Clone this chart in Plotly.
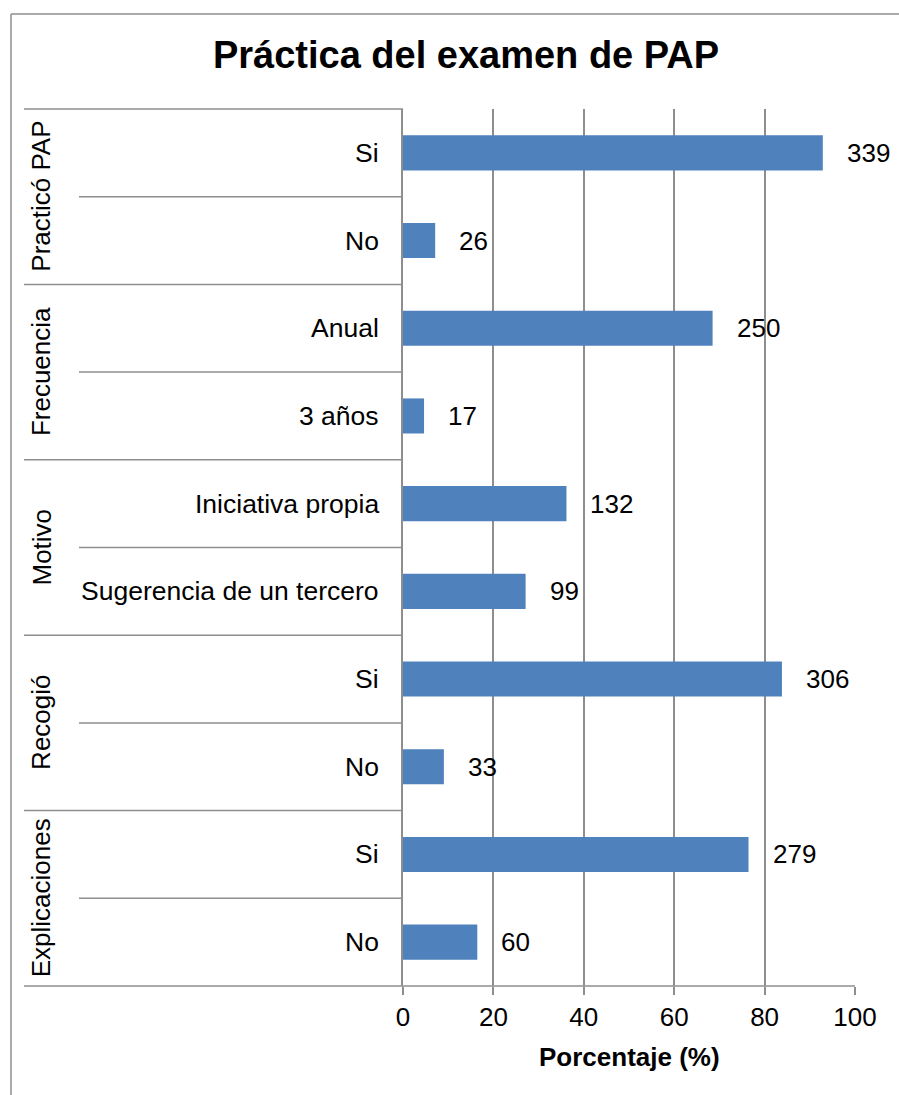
import plotly.graph_objects as go

# Survey results: Pap smear practice (n = 365)
groups = ["Practicó PAP", "Frecuencia", "Motivo", "Recogió", "Explicaciones"]
categories = ["Si", "No", "Anual", "3 años", "Iniciativa propia",
              "Sugerencia de un tercero", "Si", "No", "Si", "No"]
counts = [339, 26, 250, 17, 132, 99, 306, 33, 279, 60]
total = 365
percent = [c / total * 100 for c in counts]
x_ticks = [0, 20, 40, 60, 80, 100]

W, H = 899, 1095
ML, MR, MT, MB = 403, 44, 109, 109
PW, PH = W - ML - MR, H - MT - MB

FONT = "Liberation Sans, Arial, sans-serif"
GRID = "#8e8e8e"
BAR = "#4F81BD"

rows = list(range(len(categories)))


def px_x(p):
    return (p - ML) / PW


def px_y(p):
    return 1 - (p - MT) / PH


fig = go.Figure()
fig.add_trace(go.Bar(
    x=percent, y=rows, orientation="h", width=0.4,
    marker=dict(color=BAR, line=dict(width=0)),
    hoverinfo="skip",
))

annotations = []
# value labels to the right of each bar
for r, p, c in zip(rows, percent, counts):
    annotations.append(dict(x=p, y=r, xref="x", yref="y", text=str(c),
                            showarrow=False, xanchor="left", xshift=22,
                            font=dict(family=FONT, size=26, color="black")))
# category labels
for r, cat in zip(rows, categories):
    annotations.append(dict(x=0, y=r, xref="paper", yref="y", text=cat,
                            showarrow=False, xanchor="right", xshift=-22,
                            font=dict(family=FONT, size=26.5, color="black")))
# rotated group labels
n_per = len(categories) // len(groups)
for g, name in enumerate(groups):
    annotations.append(dict(x=px_x(41), y=g * n_per + (n_per - 1) / 2,
                            xref="paper", yref="y", text=name, textangle=-90,
                            showarrow=False, xanchor="center", yanchor="middle",
                            font=dict(family=FONT, size=26, color="black")))
# axis title
annotations.append(dict(x=0.5, y=px_y(1057), xref="paper", yref="paper",
                        text="<b>Porcentaje (%)</b>", showarrow=False,
                        xanchor="center", yanchor="middle",
                        font=dict(family=FONT, size=26, color="black")))

shapes = []
n = len(categories)
for k in range(n + 1):
    yp = 1 - k / n
    x0 = px_x(24) if k % n_per == 0 else px_x(79)
    x1 = 1 if k == n else 0
    shapes.append(dict(type="line", xref="paper", yref="paper",
                       x0=x0, x1=x1, y0=yp, y1=yp,
                       line=dict(color=GRID, width=1.5)))
# outer frame (left and top edges)
shapes.append(dict(type="line", xref="paper", yref="paper",
                   x0=px_x(11), x1=px_x(11), y0=px_y(14), y1=px_y(H + 5),
                   line=dict(color=GRID, width=1.5)))
shapes.append(dict(type="line", xref="paper", yref="paper",
                   x0=px_x(11), x1=px_x(W + 5), y0=px_y(14), y1=px_y(14),
                   line=dict(color=GRID, width=1.5)))

fig.update_layout(
    width=W, height=H,
    margin=dict(l=ML, r=MR, t=MT, b=MB),
    paper_bgcolor="white", plot_bgcolor="white",
    showlegend=False,
    title=dict(text="<b>Práctica del examen de PAP</b>",
               x=466 / W, xanchor="center", y=1 - 55 / H, yanchor="middle",
               font=dict(family=FONT, size=38, color="black")),
    xaxis=dict(range=[0, 100], tickvals=x_ticks, showgrid=True,
               gridcolor=GRID, gridwidth=1.5, zeroline=False,
               showline=False, ticks="outside", ticklen=8, tickwidth=1.5,
               tickcolor=GRID, tickfont=dict(family=FONT, size=26, color="black")),
    yaxis=dict(range=[n - 0.5, -0.5], showticklabels=False, showgrid=False,
               zeroline=False, showline=True, linecolor=GRID, linewidth=1.5,
               ticks=""),
    annotations=annotations,
    shapes=shapes,
)

fig.write_html("out.html")
